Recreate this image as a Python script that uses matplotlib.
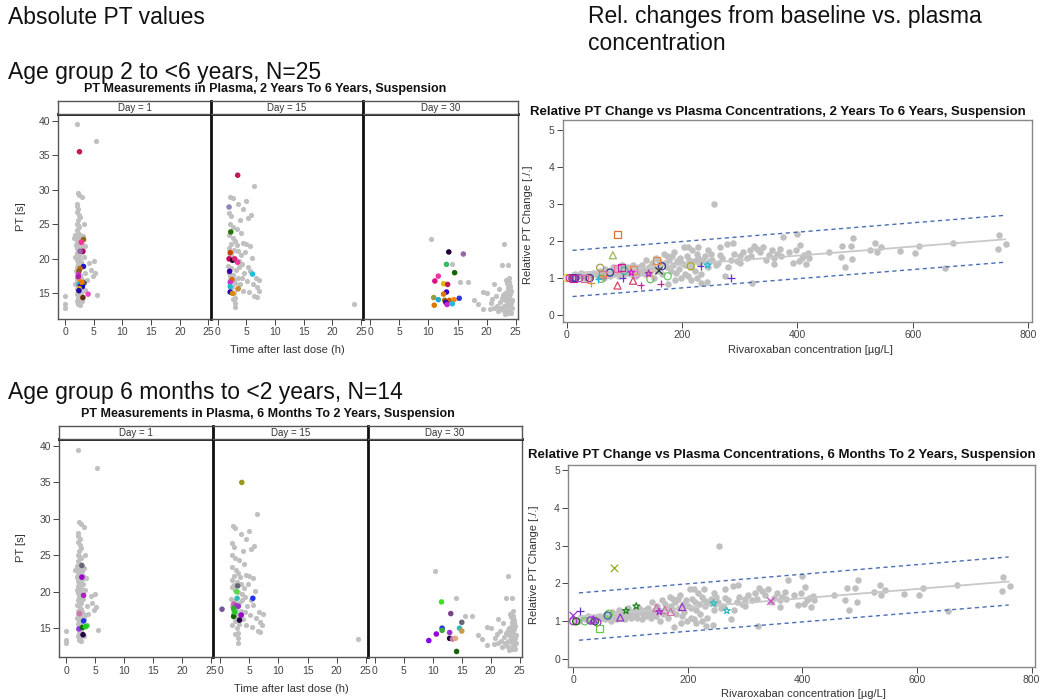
import matplotlib
matplotlib.use("Agg")
import matplotlib.pyplot as plt
import numpy as np

plt.rcParams['font.family'] = ['Liberation Sans', 'DejaVu Sans']

W, H = 1047, 700

# ---------------- DATA ----------------
# Gray background points (all subjects), PT vs time after dose
d1_gray_t = [0.0,0.0,0.0,2.0,5.3,2.2,2.5,3.0,2.0,2.1,2.3,2.0,2.4,2.6,3.3,2.2,2.0,2.5,2.1,2.3,1.8,2.6,2.0,1.5,2.8,2.2,2.4,1.9,2.7,3.4,2.0,2.3,2.9,2.1,2.5,1.8,3.2,2.4,2.0,2.7,5.0,4.2,2.2,2.9,2.0,4.5,2.5,1.9,3.5,5.2,4.8,2.3,2.0,2.8,2.1,3.3,2.4,1.8,3.0,2.2,2.6,2.0,3.5,2.3,2.8,2.0,2.5,5.5,2.2,2.7,2.0,2.4,2.2,2.6,3.0,2.1,2.9,2.3,2.6,2.0,3.8,3.1,2.2]
d1_gray_pt = [12.9,13.4,14.6,39.5,37.0,29.5,29.3,28.9,28.0,27.6,27.2,26.8,26.4,26.0,25.1,25.6,25.0,24.6,24.2,23.8,23.5,23.4,23.1,23.0,22.9,22.6,22.3,22.0,21.8,21.9,21.5,21.2,21.0,20.8,20.5,20.3,20.2,20.0,19.8,19.6,19.7,19.4,19.3,19.0,18.8,18.4,18.5,18.2,18.0,17.9,17.5,17.8,17.4,17.2,16.9,16.8,16.6,16.4,16.3,16.0,15.8,15.6,15.5,15.3,15.1,14.9,14.6,14.7,14.3,14.1,13.9,13.7,13.4,13.3,13.9,22.4,22.2,19.0,17.6,16.2,17.0,23.3,24.9]

d15_gray_t = [6.3,2.2,2.6,3.5,4.9,4.5,5.8,5.3,2.0,2.4,3.9,2.1,2.6,3.3,4.1,2.0,2.7,3.1,4.4,5.0,5.6,2.3,2.0,2.8,3.6,4.8,6.0,2.1,2.5,3.0,3.8,4.2,5.3,1.8,2.4,3.2,4.6,5.7,2.0,2.7,3.5,4.2,6.7,7.3,5.1,2.2,3.0,3.9,6.2,6.8,7.2,2.5,3.3,4.4,5.5,6.4,6.9,2.8,2.1,3.0,2.6,3.0,3.1,23.7,2.4,3.4,4.0,2.9,2.2,3.7]
d15_gray_pt = [30.6,29.0,28.8,27.9,28.4,27.2,26.3,25.9,26.7,26.2,25.6,25.0,24.6,24.3,23.8,23.4,23.0,22.6,22.3,22.1,21.9,22.2,21.6,21.3,21.1,21.0,20.1,20.6,20.3,19.9,19.7,19.3,18.8,19.0,18.7,18.4,18.0,18.2,18.0,17.6,17.3,17.2,17.2,16.9,16.8,16.9,16.5,16.3,16.4,15.9,15.4,16.0,15.6,15.4,15.2,14.6,14.5,15.0,15.4,14.4,14.2,13.6,13.0,13.5,20.9,22.0,20.5,17.0,17.5,18.8]

d30_gray_t = [10.4,23.0,22.7,23.7,14.0,15.5,16.8,17.8,19.4,19.4,20.0,21.3,22.1,22.6,20.8,21.3,21.8,22.3,22.8,23.0,23.2,23.4,23.5,23.6,23.6,23.7,23.7,23.8,23.8,23.9,23.9,24.0,24.0,24.1,24.1,24.2,23.5,23.6,23.4,23.3,24.2,24.3,24.1,23.9,24.0,23.2,22.9,22.5,21.0,20.5,24.3,24.2,23.7,23.8,24.0,22.0,23.1,21.6,18.5]
d30_gray_pt = [22.9,22.1,19.1,19.1,19.2,16.6,16.6,14.1,12.7,15.2,15.0,16.3,15.7,14.3,13.6,12.9,13.2,13.8,12.6,13.2,14.0,16.9,16.5,15.9,15.5,15.1,14.8,14.5,14.2,13.9,13.6,13.3,13.0,12.7,12.4,12.1,13.5,12.9,14.4,12.3,15.3,14.0,16.1,17.3,15.7,15.0,14.7,12.9,14.2,12.8,12.9,13.6,12.2,16.6,14.9,12.4,12.0,14.6,13.5]

# Colored subject points, 2 to 6 years
a_d1_t = [2.5,3.2,2.8,3.1,2.6,3.2,2.6,2.4,2.3,2.3,2.6,3.3,2.4,2.7,3.0,2.5,2.4,4.0,3.1,2.9]
a_d1_pt = [35.5,22.8,22.4,21.1,21.1,18.9,18.6,18.2,17.7,17.4,16.7,16.5,16.3,16.1,16.0,15.7,15.4,14.9,14.4,16.6]
a_d1_c = ['#c0185a','#8a6a1a','#ff3399','#b0006a','#9966aa','#1a1acc','#cc6600','#8a5a20','#cc33cc','#aa22aa','#ff8800','#555577','#22bbcc','#5500aa','#0000cc','#ddaa00','#2200aa','#ee44cc','#6b2a0a','#ee7700']
a_d15_t = [3.5,2.0,2.3,2.2,2.0,2.6,3.0,3.5,2.1,6.1,2.5,2.2,2.2,2.2,2.6,3.6]
a_d15_pt = [32.1,27.5,23.9,20.9,20.0,19.8,20.0,19.5,18.2,17.8,17.0,16.6,16.0,15.2,15.0,15.7]
a_d15_c = ['#c0185a','#8888bb','#227700','#cc4400','#cc0066','#220033','#dd2277','#ee3399','#3300aa','#22bbdd','#dd6600','#cc33cc','#22bbcc','#2200bb','#dd8800','#cc8833']
a_d30_t = [13.5,16.0,13.1,14.5,11.7,11.1,12.6,13.3,13.1,12.6,10.9,11.7,12.8,13.6,14.4,15.3,13.0,13.2,14.1,11.0]
a_d30_pt = [21.0,20.7,19.2,18.0,17.5,16.8,16.4,16.3,15.2,14.9,14.4,14.1,14.0,14.0,14.1,14.3,13.7,13.4,13.5,13.3]
a_d30_c = ['#220033','#9966aa','#33bb66','#116600','#ee33aa','#dd1188','#ddbb00','#c0185a','#3300cc','#dd7700','#999944','#22aacc','#996600','#cc6600','#ff8800','#3333dd','#3300aa','#cc22cc','#22bbdd','#dd7700']

# Colored subject points, 6 months to 2 years
b_d1_t = [2.7,2.7,3.0,2.3,3.0,2.2,2.8,3.5,2.9,3.3]
b_d1_pt = [23.6,22.0,19.5,17.0,16.0,14.9,15.1,15.3,14.1,15.2]
b_d1_c = ['#666677','#9900cc','#aa22bb','#cc77aa','#2233ee','#9933ee','#116600','#33dd33','#220044','#22cc22']
b_d15_t = [3.7,3.0,2.8,2.9,5.6,2.3,2.7,3.1,2.3,0.3,3.6,2.3,3.3,2.5]
b_d15_pt = [35.0,20.8,20.0,19.1,19.1,18.3,18.1,18.0,17.7,17.6,16.8,16.6,16.1,17.2]
b_d15_c = ['#999922','#666677','#55dd44','#33bbbb','#2233ee','#cc66aa','#aa44bb','#9933cc','#33aa33','#775599','#9900cc','#116600','#220044','#22cc22']
b_d30_t = [11.5,13.1,15.0,14.6,15.0,11.6,11.6,10.6,12.9,9.3,12.9,13.4,13.9,14.1]
b_d30_pt = [18.6,17.0,15.8,15.0,14.6,15.0,14.7,14.2,14.4,13.3,13.6,13.5,13.6,11.8]
b_d30_c = ['#44dd22','#774488','#666677','#33bbbb','#cc9944','#2233ee','#33aa33','#9900cc','#9933cc','#8800ee','#220044','#cc77aa','#ddaa88','#116600']

day_labels = ['Day = 1', 'Day = 15', 'Day = 30']
facet_xticks = [0, 5, 10, 15, 20, 25]
facet_yticks = [15, 20, 25, 30, 35, 40]

# Relative PT change vs concentration (gray = all subjects)
conc_gray = [255,750,748,762,670,655,610,603,578,545,535,537,525,497,492,495,482,475,478,455,418,415,405,400,397,402,408,412,392,375,370,365,360,355,350,345,340,335,330,325,320,318,322,312,305,300,295,290,285,280,278,275,270,265,262,258,252,248,245,240,236,232,230,228,225,222,220,218,215,212,210,208,205,203,200,198,196,194,192,190,188,185,183,180,178,176,173,170,168,165,162,160,157,155,152,150,147,145,142,140,137,135,132,130,127,125,122,120,117,115,112,110,107,105,102,100,97,95,92,90,87,85,82,80,77,75,72,70,67,65,62,60,57,55,50,45,40,35,30,25,20,15,10,5,210,228,244,265,288,300,215,225,233,205,186,174,250,360,372,385,420,245]
rel_gray = [3.0,2.17,1.8,1.92,1.95,1.27,1.88,1.69,1.73,1.84,1.95,1.7,1.77,2.08,1.87,1.52,1.31,1.57,1.87,1.7,1.67,1.38,1.9,2.2,1.75,1.45,1.55,1.62,1.42,2.1,1.78,1.65,1.55,1.75,1.62,1.5,1.85,1.7,1.8,1.88,1.6,1.75,0.88,1.55,1.7,1.6,1.45,1.65,1.5,1.3,1.92,1.05,1.55,1.62,1.4,1.35,1.5,1.45,1.3,1.6,1.5,0.88,1.4,1.55,1.65,1.2,1.45,1.75,1.3,1.5,1.05,1.6,1.35,1.85,1.4,1.0,1.55,1.25,1.45,1.15,0.95,1.35,1.6,1.2,1.5,0.85,1.3,1.4,1.65,1.1,1.35,1.45,1.2,1.55,1.0,1.3,1.4,1.15,1.3,1.2,1.5,1.1,1.25,1.35,1.15,1.3,1.2,1.05,1.25,1.35,1.1,1.2,1.3,1.15,1.25,1.1,1.2,1.35,1.15,1.05,1.25,1.2,1.1,1.3,1.15,1.05,1.2,1.1,1.25,1.0,1.15,1.1,1.2,1.05,1.1,1.15,1.05,1.1,1.0,1.15,1.05,1.1,1.0,1.0,1.85,1.85,0.9,1.85,1.95,1.4,0.95,1.0,1.1,1.1,1.7,1.6,1.65,1.38,1.6,1.7,1.55,1.75]

# Regression line and prediction band endpoints
reg_x = [10, 760]
reg_y = [1.13, 2.05]
band_upper = [1.75, 2.70]
band_lower = [0.50, 1.43]

# Colored subjects, 2 to 6 years (open markers)
a_conc = [0,5,12,10,15,22,30,38,42,40,55,58,60,62,75,88,95,97,88,100,115,115,112,120,128,145,145,142,160,165,163,175,215,232,244,285,155,80,88,62]
a_rel = [1.0,1.0,1.0,1.0,1.0,1.0,1.0,1.0,0.87,1.0,0.98,1.28,0.98,1.1,1.15,1.25,1.28,1.0,0.8,1.2,1.22,0.93,1.15,1.1,0.8,1.1,0.97,1.12,1.2,1.32,0.85,1.05,1.32,1.33,1.35,1.0,1.48,1.62,2.18,1.05]
a_mk = ['o','o','s','o','o','o','s','o','+','o','+','o','o','s','o','s','s','+','^','o','s','^','*','o','+','x','o','*','x','o','+','o','o','+','*','+','s','^','s','+']
a_col = ['#eecc22','#cc2299','#cc2299','#6633aa','#333399','#aa44aa','#dd6699','#cc7733','#ee8833','#4433aa','#22bbdd','#aa9944','#66bb66','#cc7788','#333399','#ee66aa','#cc2299','#6633cc','#dd4466','#33bb99','#ee8844','#cc4466','#cc22cc','#dd88dd','#cc2299','#ffaa44','#66bb66','#aa33cc','#333333','#333399','#cc2299','#66cc66','#aaaa22','#6633cc','#22bbdd','#6633cc','#ee8844','#99bb55','#e07030','#ee8833']

# Colored subjects, 6 months to 2 years
b_conc = [72,345,0,12,0,5,20,30,35,38,45,42,62,60,82,92,110,145,150,160,170,190,245,268]
b_rel = [2.4,1.53,1.15,1.28,1.0,1.0,1.0,1.02,1.05,1.0,0.8,0.97,1.2,1.15,1.1,1.28,1.4,1.35,1.25,1.3,1.25,1.38,1.48,1.28]
b_mk = ['x','x','x','+','o','o','o','o','^','o','s','o','o','o','^','*','*','^','*','^','^','^','*','*']
b_col = ['#99aa22','#cc44cc','#aa33dd','#6633cc','#aa33cc','#116600','#66cc66','#9933cc','#9933cc','#336633','#66cc44','#9933cc','#66cc44','#336699','#9933cc','#228822','#228822','#cc77aa','#aa33cc','#cc77aa','#cc77aa','#9933cc','#33bbbb','#33bbbb']

rel_xticks = [0, 200, 400, 600, 800]
rel_yticks = [0, 1, 2, 3, 4, 5]

# ---------------- FIGURE ----------------
fig = plt.figure(figsize=(W / 100, H / 100), dpi=100)

def rect(x0, y0, x1, y1):
    return [x0 / W, 1 - y1 / H, (x1 - x0) / W, (y1 - y0) / H]

def ftext(x, y, s, **kw):
    fig.text(x / W, 1 - y / H, s, **kw)

GRAY = '#c0c0c0'
TICKC = '#444444'

def style_ticks(ax):
    ax.tick_params(axis='both', labelsize=7.5, colors=TICKC, length=4, width=0.7, direction='out', pad=2)

def facet_row(xs, y_strip, y_top, y_bot, ylim, cols_t, cols_pt, cols_c):
    grays = [(d1_gray_t, d1_gray_pt), (d15_gray_t, d15_gray_pt), (d30_gray_t, d30_gray_pt)]
    for i in range(3):
        ax = fig.add_axes(rect(xs[i], y_top, xs[i + 1], y_bot))
        ax.scatter(grays[i][0], grays[i][1], s=14, color=GRAY, linewidths=0, zorder=2)
        ax.scatter(cols_t[i], cols_pt[i], s=16, c=cols_c[i], linewidths=0, zorder=3)
        ax.set_xlim(-1.2, 25.4)
        ax.set_ylim(*ylim)
        ax.set_xticks(facet_xticks)
        ax.set_yticks(facet_yticks)
        style_ticks(ax)
        for sp in ax.spines.values():
            sp.set_color('#555555')
            sp.set_linewidth(1.0)
        if i > 0:
            ax.tick_params(axis='y', left=False, labelleft=False)
            ax.spines['left'].set_color('#111111')
            ax.spines['left'].set_linewidth(2.0)
        ax.spines['top'].set_color('#111111')
        ax.spines['top'].set_linewidth(2.0)
        # strip header
        sx = fig.add_axes(rect(xs[i], y_strip, xs[i + 1], y_top))
        sx.set_xticks([]); sx.set_yticks([])
        for sp in sx.spines.values():
            sp.set_color('#555555')
            sp.set_linewidth(1.0)
        if i > 0:
            sx.spines['left'].set_color('#111111')
            sx.spines['left'].set_linewidth(2.0)
        sx.text(0.5, 0.45, day_labels[i], transform=sx.transAxes, ha='center', va='center',
                fontsize=7, color='#333333')

def rel_panel(r, xlim, ylim, conc_c, rel_c, mk, col):
    ax = fig.add_axes(r)
    ax.scatter(conc_gray, rel_gray, s=22, color=GRAY, linewidths=0, zorder=2)
    ax.plot(reg_x, reg_y, color='#c8c8c8', lw=1.3, zorder=2.5)
    ax.plot(reg_x, band_upper, color='#4a6db5', lw=1.0, ls=(0, (3, 2.5)), zorder=2.5)
    ax.plot(reg_x, band_lower, color='#4a6db5', lw=1.0, ls=(0, (3, 2.5)), zorder=2.5)
    for m in ['o', 's', '^', '+', 'x', '*']:
        idx = [k for k in range(len(mk)) if mk[k] == m]
        if not idx:
            continue
        xs = [conc_c[k] for k in idx]
        ys = [rel_c[k] for k in idx]
        cs = [col[k] for k in idx]
        if m in ['+', 'x']:
            ax.scatter(xs, ys, s=28, marker=m, c=cs, linewidths=0.9, zorder=3)
        else:
            ax.scatter(xs, ys, s=26, marker=m, facecolors='none', edgecolors=cs, linewidths=0.9, zorder=3)
    ax.set_xlim(*xlim)
    ax.set_ylim(*ylim)
    ax.set_xticks(rel_xticks)
    ax.set_yticks(rel_yticks)
    style_ticks(ax)
    for sp in ax.spines.values():
        sp.set_color('#888888')
        sp.set_linewidth(1.0)
    return ax

# Top-left facets
facet_row([58.3, 210.7, 363.3, 518.0], 100.7, 113.7, 319.0, (11.3, 41.0),
          [a_d1_t, a_d15_t, a_d30_t], [a_d1_pt, a_d15_pt, a_d30_pt], [a_d1_c, a_d15_c, a_d30_c])
# Bottom-left facets
facet_row([59.3, 213.3, 368.0, 522.0], 426.0, 438.7, 657.3, (11.0, 41.0),
          [b_d1_t, b_d15_t, b_d30_t], [b_d1_pt, b_d15_pt, b_d30_pt], [b_d1_c, b_d15_c, b_d30_c])

# Right panels
rel_panel(rect(562.7, 120.0, 1031.7, 321.7), (-7, 806), (-0.18, 5.28), a_conc, a_rel, a_mk, a_col)
rel_panel(rect(568.3, 465.0, 1035.0, 666.7), (-8.7, 806), (-0.2, 5.13), b_conc, b_rel, b_mk, b_col)

# ---------------- TEXTS ----------------
big = dict(fontsize=16.5, color='#111111', va='center', ha='left')
ftext(8, 17, 'Absolute PT values', **big)
ftext(588, 17, 'Rel. changes from baseline vs. plasma', **big)
ftext(588, 44, 'concentration', **big)
ftext(8, 73, 'Age group 2 to <6 years, N=25', **big)
ftext(8, 392, 'Age group 6 months to <2 years, N=14', **big)

tt = dict(fontsize=9, fontweight='bold', color='#111111', ha='center', va='center')
ftext(265, 89, 'PT Measurements in Plasma, 2 Years To 6 Years, Suspension', **tt)
ftext(268, 414, 'PT Measurements in Plasma, 6 Months To 2 Years, Suspension', **tt)
tr = dict(tt, fontsize=9.5)
ftext(778, 112, 'Relative PT Change vs Plasma Concentrations, 2 Years To 6 Years, Suspension', **tr)
ftext(782, 455, 'Relative PT Change vs Plasma Concentrations, 6 Months To 2 Years, Suspension', **tr)

lab = dict(fontsize=8, color='#333333', ha='center', va='center')
ftext(287, 350, 'Time after last dose (h)', **lab)
ftext(291, 689, 'Time after last dose (h)', **lab)
ftext(21, 217, 'PT [s]', rotation=90, **lab)
ftext(21, 548, 'PT [s]', rotation=90, **lab)
ftext(810, 350, 'Rivaroxaban concentration [µg/L]', **lab)
ftext(803, 694, 'Rivaroxaban concentration [µg/L]', **lab)
ftext(528, 225, 'Relative PT Change [./.]', rotation=90, **lab)
ftext(534, 565, 'Relative PT Change [./.]', rotation=90, **lab)

fig.savefig('out.png', dpi=100)
